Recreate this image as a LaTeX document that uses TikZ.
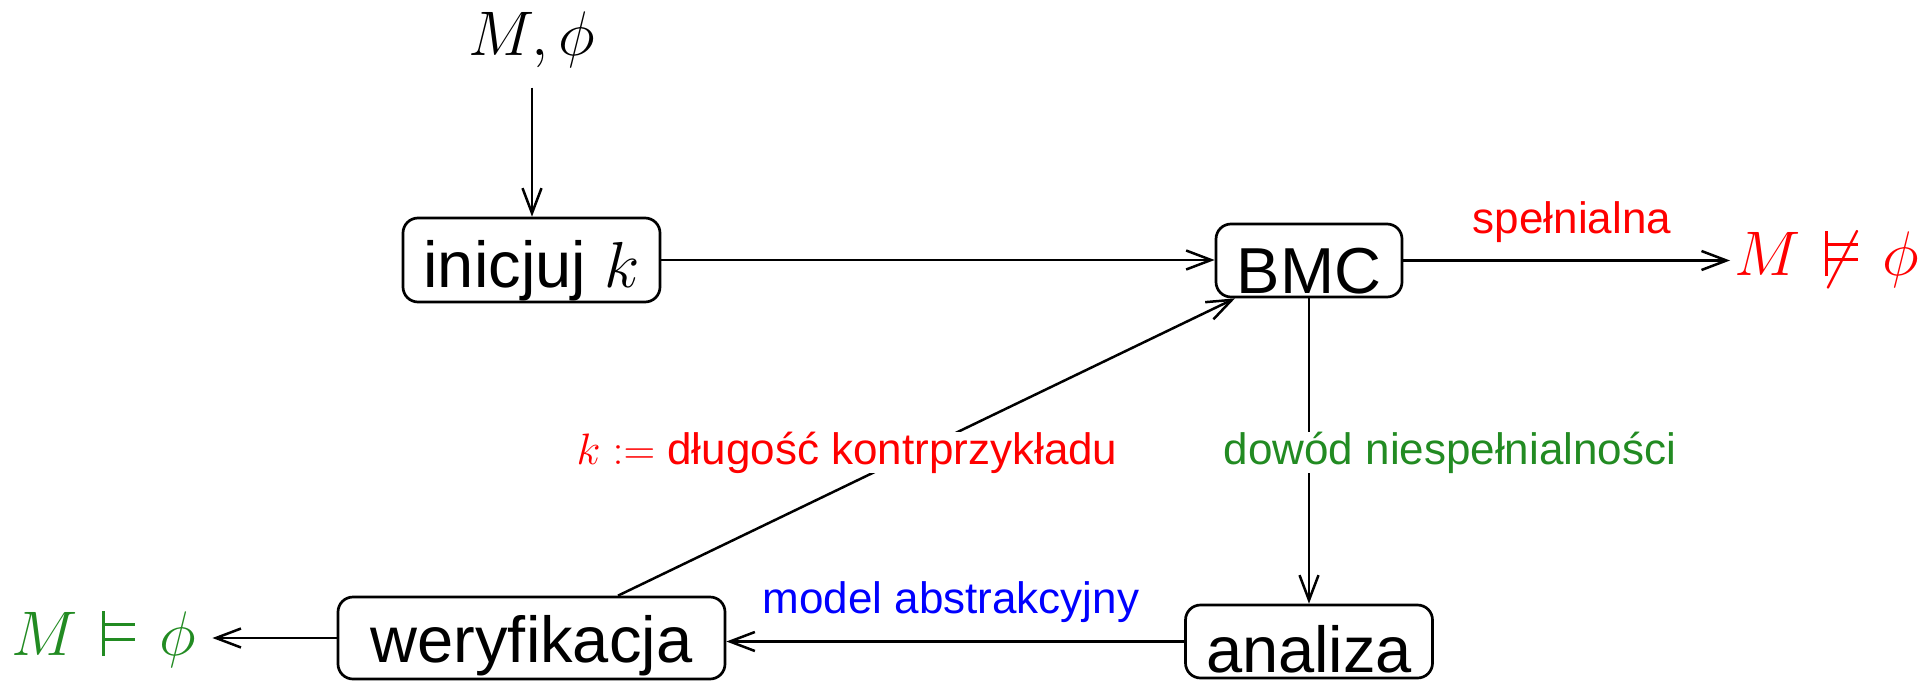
\RequirePackage{fix-cm}
\documentclass[tikz,border=0pt]{standalone}
\usepackage[no-math]{fontspec}
\setmainfont{Liberation Sans}
\usetikzlibrary{arrows.meta,calc}
\definecolor{fgreen}{RGB}{34,139,34}
% narrow "models" sign drawn with rules (sized for the 63pt math labels)
\newcommand{\narrowmodels}{\mathrel{\mkern2mu\rlap{\rule[-1pt]{3.2pt}{45pt}}\rlap{\rule[14pt]{33pt}{3pt}}\rule[29pt]{33pt}{3pt}\mkern2mu}}
\begin{document}
\begin{tikzpicture}[x=1pt,y=-1pt, line width=2.7pt,
  box/.style={draw, rounded corners=15pt, inner xsep=0pt, inner ysep=0pt, font=\fontsize{65}{78}\selectfont},
  mathlbl/.style={inner sep=0pt, font=\fontsize{63}{75}\selectfont},
  lbl/.style={inner sep=0pt, font=\fontsize{44}{52}\selectfont, anchor=base},
  arr/.style={-{Straight Barb[length=25pt,width=19pt]}, line width=2.5pt},
]
\path[use as bounding box] (0,0) rectangle (1932,680);

\node[box, minimum width=257pt, text height=69pt, text depth=15pt] (init) at (531.5,260) {inicjuj $k$};
\node[box, minimum width=186pt, text height=69pt, text depth=4pt] (bmc) at (1309,260.5) {BMC};
\node[box, minimum width=247pt, text height=67pt, text depth=6pt] (anal) at (1309,641.5) {analiza};
\node[box, minimum width=387pt, text height=65pt, text depth=17pt] (weryf) at (531.5,638) {weryfikacja};

\node[mathlbl, anchor=base] (input) at (532,55) {$M,\phi$};
\node[mathlbl, anchor=base west, text=red] (neg) at (1733,275) {$M \not\narrowmodels \phi$};
\node[mathlbl, anchor=base west, text=fgreen] (pos) at (10,655) {$M \narrowmodels \phi$};

\draw[arr, shorten <=19pt] (input.south) -- (input.south |- init.north);
\draw[arr] (init.east) -- (init.east -| bmc.west);
\draw[arr, shorten >=3pt] (bmc.east) -- (bmc.east -| neg.west);
\draw[arr] (bmc.south) -- (anal.north);
\draw[arr] (anal.west) -- (anal.west -| weryf.east);
\draw[arr, shorten >=15pt] (weryf.west) -- (weryf.west -| pos.east);
\draw[arr] ([xshift=86.5pt]weryf.north) -- ([xshift=-74pt]bmc.south);

\node[lbl, text=red] (lspel) at (1572,233) {spełnialna};
\node[lbl, text=fgreen, fill=white] (ldow) at (1450,464) {dowód niespełnialności};
\node[lbl, text=red, fill=white] (ldl) at (847,464) {$k:=$ długość kontrprzykładu};
\node[lbl, text=blue] (lmod) at (951,613) {model abstrakcyjny};
\end{tikzpicture}
\end{document}
